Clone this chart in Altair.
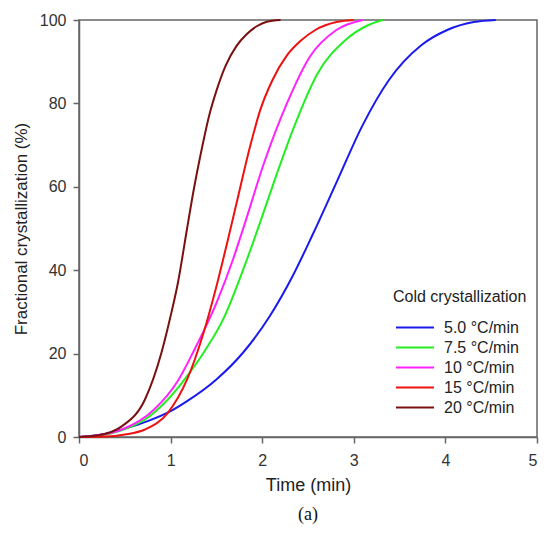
import altair as alt
import pandas as pd

series_names = ["5.0 °C/min", "7.5 °C/min", "10 °C/min", "15 °C/min", "20 °C/min"]
series_colors = ["#1a1aee", "#22ee22", "#ff22ff", "#ee1111", "#7a1010"]

t_50 = [0.0, 0.25, 0.5, 0.75, 1.0, 1.18, 1.5, 1.79, 2.08, 2.33, 2.55, 2.81, 3.09, 3.38, 3.74, 4.02, 4.31, 4.55]
x_50 = [0.0, 0.6, 2.0, 3.8, 6.2, 8.6, 13.8, 20.2, 28.9, 38.5, 48.5, 61.0, 74.5, 85.5, 94.0, 97.6, 99.5, 100.0]

t_75 = [0.0, 0.2, 0.45, 0.72, 0.97, 1.18, 1.36, 1.58, 1.79, 1.97, 2.15, 2.35, 2.6, 2.91, 3.16, 3.32]
x_75 = [0.0, 0.3, 1.5, 4.2, 9.0, 14.6, 20.2, 28.5, 40.0, 51.0, 62.5, 74.5, 87.0, 95.2, 98.8, 100.0]

t_10 = [0.0, 0.2, 0.47, 0.82, 1.08, 1.25, 1.5, 1.68, 1.8, 2.02, 2.27, 2.52, 2.81, 3.1]
x_10 = [0.0, 0.4, 1.8, 6.6, 13.5, 20.5, 32.1, 42.5, 50.5, 65.7, 80.0, 91.2, 97.6, 100.0]

t_15 = [0.0, 0.29, 0.5, 0.72, 0.97, 1.18, 1.36, 1.5, 1.66, 1.73, 1.86, 1.98, 2.11, 2.27, 2.42, 2.58, 2.81, 3.0]
x_15 = [0.0, 0.1, 0.6, 1.8, 5.8, 13.8, 25.0, 36.1, 50.5, 57.0, 69.0, 78.5, 85.5, 91.5, 95.0, 97.6, 99.5, 100.0]

t_20 = [0.0, 0.21, 0.47, 0.72, 0.9, 1.0, 1.08, 1.18, 1.25, 1.33, 1.42, 1.5, 1.6, 1.72, 1.83, 1.94, 2.05, 2.2]
x_20 = [0.0, 0.4, 2.6, 9.0, 20.2, 29.0, 37.0, 50.0, 59.0, 68.0, 77.0, 83.0, 89.0, 93.8, 96.6, 98.5, 99.6, 100.0]

series_t = [t_50, t_75, t_10, t_15, t_20]
series_x = [x_50, x_75, x_10, x_15, x_20]

rows = []
for name, ts, xs in zip(series_names, series_t, series_x):
    for t, x in zip(ts, xs):
        rows.append({"rate": name, "time": t, "frac": x})
df = pd.DataFrame(rows)

FONT = "Liberation Sans"

chart = alt.Chart(df).mark_line(strokeWidth=2, interpolate="monotone").encode(
    x=alt.X("time:Q", title="Time (min)",
            scale=alt.Scale(domain=[0, 5], nice=False, zero=False),
            axis=alt.Axis(values=[0, 1, 2, 3, 4, 5], format="d", grid=False,
                          tickSize=6, labelPadding=9, titlePadding=8,
                          labelFontSize=16, titleFontSize=18)),
    y=alt.Y("frac:Q", title="Fractional crystallization (%)",
            scale=alt.Scale(domain=[0, 100], nice=False),
            axis=alt.Axis(values=[0, 20, 40, 60, 80, 100], grid=False,
                          tickSize=6, labelPadding=7, titlePadding=9,
                          labelFontSize=16, titleFontSize=17)),
    color=alt.Color("rate:N", sort=series_names,
                    scale=alt.Scale(domain=series_names, range=series_colors),
                    legend=alt.Legend(title="Cold crystallization", orient="none",
                                      legendX=314, legendY=269,
                                      symbolType="M-0.733,0H4.333", symbolSize=225,
                                      symbolStrokeWidth=2, labelOffset=34,
                                      titleFontSize=16, labelFontSize=16,
                                      titleFontWeight="normal", titlePadding=14,
                                      rowPadding=3)),
    order=alt.Order("time:Q"),
).properties(
    width=458, height=417,
    title=alt.TitleParams("(a)", orient="bottom", anchor="middle",
                          font="Liberation Serif", fontSize=18,
                          fontWeight="normal", color="#111", offset=12),
    autosize=alt.AutoSizeParams(type="none"),
    padding={"left": 71, "top": 12, "right": 4, "bottom": 88},
).configure_view(
    stroke="#666", strokeWidth=1.5
).configure_axis(
    labelFont=FONT, titleFont=FONT, labelColor="#333", titleColor="#222",
    domainColor="#666", tickColor="#666", domainWidth=1.5, tickWidth=1.5,
    titleFontWeight="normal"
).configure_legend(
    labelFont=FONT, titleFont=FONT, labelColor="#222", titleColor="#222"
)

chart.save("out.html", embed_options={"renderer": "svg", "actions": False})
